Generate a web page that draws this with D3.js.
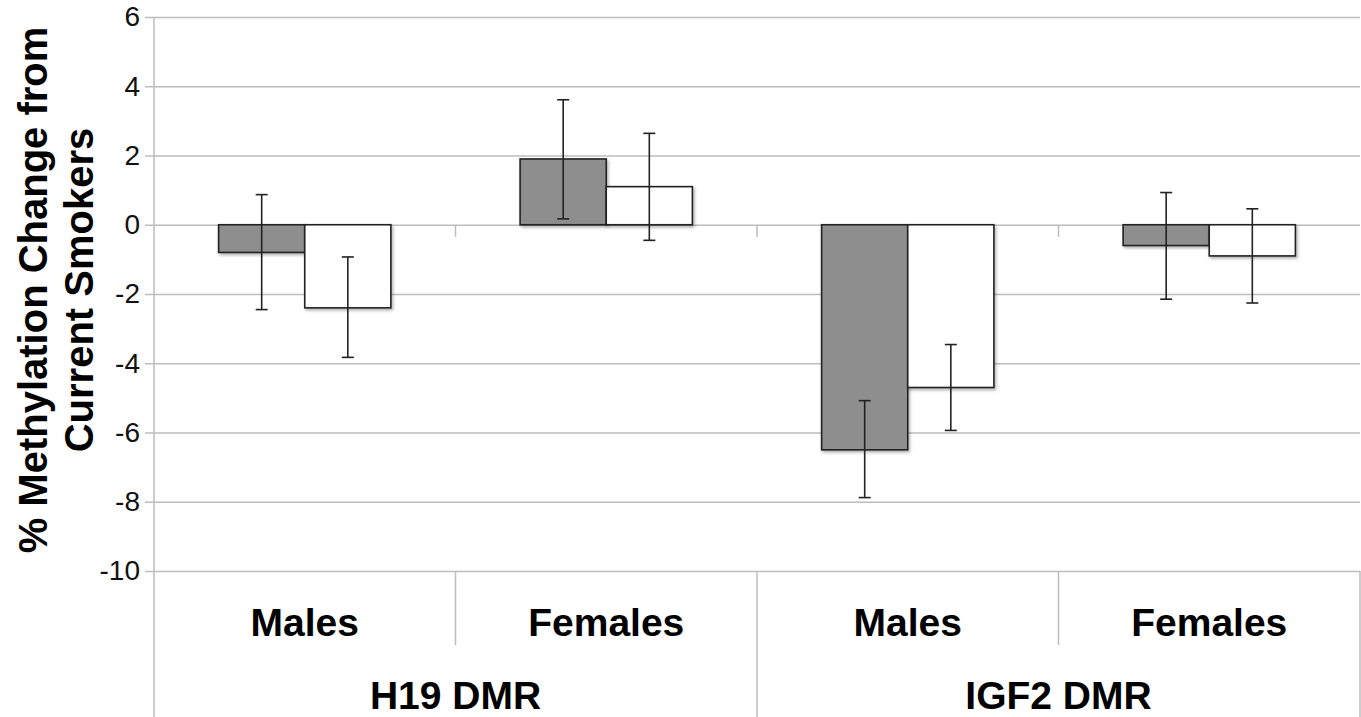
<!DOCTYPE html>
<html>
<head>
<meta charset="utf-8">
<title>Methylation change</title>
<script src="https://cdnjs.cloudflare.com/ajax/libs/d3/7.8.5/d3.min.js"></script>
<style>
body{
margin:0;
background:#fff
}
svg{
display:block
}
text{
font-family:"Liberation Sans", Arial, sans-serif
}
</style>
</head>
<body>
<svg width="1361" height="717"></svg>

<script>

// data
var regions = ["H19 DMR", "IGF2 DMR"]
var sexes = ["Males", "Females"]
var yTicks = [6, 4, 2, 0, -2, -4, -6, -8, -10]

// grey bars (first series)
var greyValues = [-0.8, 1.9, -6.5, -0.6]
var greyLow = [-2.45, 0.17, -7.88, -2.15]
var greyHigh = [0.87, 3.61, -5.08, 0.93]

// white bars (second series)
var whiteValues = [-2.4, 1.1, -4.7, -0.9]
var whiteLow = [-3.83, -0.45, -5.94, -2.26]
var whiteHigh = [-0.93, 2.64, -3.46, 0.46]

var cats = []
regions.forEach(r => sexes.forEach(s => cats.push(r + "|" + s)))

var bars = []
cats.forEach((c, i) => {
	bars.push({cat: c, s: "grey", v: greyValues[i], lo: greyLow[i], hi: greyHigh[i]})
	bars.push({cat: c, s: "white", v: whiteValues[i], lo: whiteLow[i], hi: whiteHigh[i]})
})

var plotL = 154, plotR = 1360, plotT = 17, plotB = 571

var svg = d3.select("svg")

var y = d3.scaleLinear().domain([-10, 6]).range([plotB, plotT])
var x0 = d3.scaleBand().domain(cats).range([plotL, plotR])
var x1 = d3.scaleBand().domain(["grey", "white"]).range([0, x0.bandwidth()])
	.paddingInner(0).paddingOuter(0.75)
var xr = d3.scaleBand().domain(regions).range([plotL, plotR])

var grid = "#bdbdbd"

// gridlines + tick labels
var yAxis = d3.axisLeft(y).tickValues(yTicks).tickSize(0).tickPadding(5)
	.tickFormat(d => String(d))
svg.append("g")
	.attr("transform", "translate(" + (plotL - 9) + ",0)")
	.call(yAxis)
	.call(g => g.select(".domain").remove())
	.call(g => g.selectAll(".tick line").attr("stroke", grid).attr("stroke-width", 1.5)
		.attr("x1", 0).attr("x2", plotR - plotL + 9))
	.call(g => g.selectAll(".tick text").attr("fill", "#111").attr("font-size", 28))

// vertical axis line and category separators
svg.append("line").attr("x1", plotL).attr("x2", plotL).attr("y1", plotT).attr("y2", 717)
	.attr("stroke", grid).attr("stroke-width", 1.5)

svg.selectAll(".sep")
	.data(cats)
	.join("line")
	.attr("x1", d => x0(d) + x0.bandwidth())
	.attr("x2", d => x0(d) + x0.bandwidth())
	.attr("y1", plotB)
	.attr("y2", (d, i) => i % 2 == 0 ? 645 : 717)
	.attr("stroke", grid).attr("stroke-width", 1.5)

// small ticks on zero line
svg.selectAll(".zt")
	.data(cats.slice(0, 3))
	.join("line")
	.attr("x1", d => x0(d) + x0.bandwidth())
	.attr("x2", d => x0(d) + x0.bandwidth())
	.attr("y1", y(0))
	.attr("y2", y(0) + 12)
	.attr("stroke", grid).attr("stroke-width", 1.5)

// shadow
var defs = svg.append("defs")
var f = defs.append("filter").attr("id", "sh").attr("x", "-10%").attr("y", "-10%").attr("width", "130%").attr("height", "130%")
f.append("feDropShadow").attr("dx", 1.5).attr("dy", 2).attr("stdDeviation", 1.5)
	.attr("flood-color", "#000").attr("flood-opacity", 0.3)

svg.append("g")
	.selectAll("rect")
	.data(bars)
	.join("rect")
	.attr("x", d => x0(d.cat) + x1(d.s))
	.attr("width", x1.bandwidth())
	.attr("y", d => y(Math.max(0, d.v)))
	.attr("height", d => Math.abs(y(d.v) - y(0)))
	.attr("fill", d => d.s == "grey" ? "#8e8e8e" : "#fff")
	.attr("stroke", "#222")
	.attr("stroke-width", 1.6)
	.attr("filter", "url(#sh)")

// error bars
var eb = svg.append("g").attr("stroke", "#222").attr("stroke-width", 1.6)
	.selectAll("g")
	.data(bars)
	.join("g")
	.attr("transform", d => "translate(" + (x0(d.cat) + x1(d.s) + x1.bandwidth() / 2) + ",0)")
eb.append("line").attr("y1", d => y(d.hi)).attr("y2", d => y(d.lo))
eb.append("line").attr("x1", -6).attr("x2", 6).attr("y1", d => y(d.hi)).attr("y2", d => y(d.hi))
eb.append("line").attr("x1", -6).attr("x2", 6).attr("y1", d => y(d.lo)).attr("y2", d => y(d.lo))

// category labels
svg.selectAll(".cl")
	.data(cats)
	.join("text")
	.attr("x", d => x0(d) + x0.bandwidth() / 2)
	.attr("y", 636)
	.attr("text-anchor", "middle")
	.attr("font-size", 39)
	.attr("font-weight", "bold")
	.text(d => d.split("|")[1])

svg.selectAll(".rl")
	.data(regions)
	.join("text")
	.attr("x", d => xr(d) + xr.bandwidth() / 2)
	.attr("y", 709)
	.attr("text-anchor", "middle")
	.attr("font-size", 39)
	.attr("font-weight", "bold")
	.text(d => d)

// y axis title
var yt = svg.append("text")
	.attr("transform", "translate(47," + ((plotT + plotB) / 2 - 4) + ") rotate(-90)")
	.attr("text-anchor", "middle")
	.attr("font-size", 40)
	.attr("font-weight", "bold")
yt.append("tspan").attr("x", 0).attr("dy", 0).text("% Methylation Change from")
yt.append("tspan").attr("x", 0).attr("dy", 46).text("Current Smokers")

</script>
</body>
</html>
